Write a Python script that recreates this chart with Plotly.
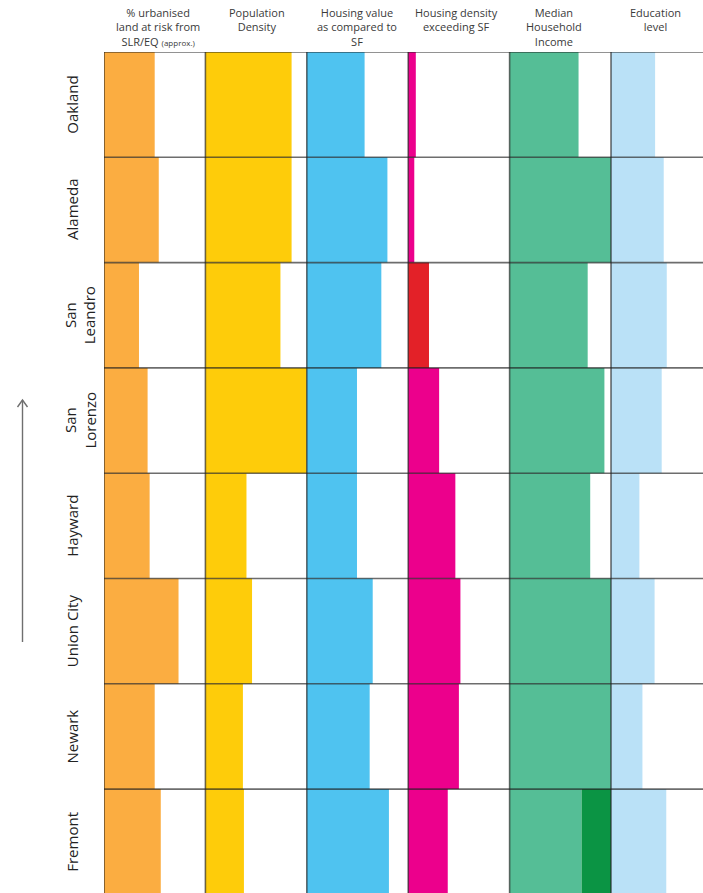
import plotly.graph_objects as go

# Cities, top to bottom
cities = ["Oakland", "Alameda", "San<br>Leandro", "San<br>Lorenzo",
          "Hayward", "Union City", "Newark", "Fremont"]

# Column headers
headers = [
    "% urbanised<br>land at risk from<br>SLR/EQ <span style='font-size:8px'>(approx.)</span>",
    "Population<br>Density",
    "Housing value<br>as compared to<br>SF",
    "Housing density<br>exceeding SF",
    "Median<br>Household<br>Income",
    "Education<br>level",
]

# Relative values per indicator (share of a column's width)
urban_risk     = [0.50, 0.54, 0.345, 0.43, 0.45, 0.735, 0.50, 0.56]
pop_density    = [0.85, 0.85, 0.74, 1.00, 0.405, 0.46, 0.37, 0.38]
housing_value  = [0.57, 0.795, 0.735, 0.495, 0.495, 0.65, 0.62, 0.81]
density_excess = [0.075, 0.06, 0.205, 0.305, 0.465, 0.515, 0.50, 0.39]
income         = [0.68, 1.00, 0.77, 0.935, 0.795, 1.00, 1.00, 0.71]
income_extra   = [0, 0, 0, 0, 0, 0, 0, 0.29]
education      = [0.435, 0.52, 0.55, 0.50, 0.28, 0.43, 0.31, 0.545]

columns = [urban_risk, pop_density, housing_value, density_excess, income, education]
colors = ["#FBAD41", "#FECC0A", "#4FC3F0", "#EC008C", "#55BE96", "#BAE1F7"]
density_colors = ["#E32128" if c == "San<br>Leandro" else "#EC008C" for c in cities]

W, H = 703, 893
L, T = 104, 52
COL_W, ROW_H = 101.4, 105.3
plot_w, plot_h = W - L, H - T


def px(x):
    return (x - L) / plot_w


def py(y):
    return 1 - (y - T) / plot_h


rows = [i + 0.5 for i in range(len(cities))]

fig = go.Figure()
for ci, vals in enumerate(columns):
    mc = density_colors if ci == 3 else colors[ci]
    fig.add_trace(go.Bar(
        y=rows, x=vals, base=[ci] * len(vals), orientation="h", width=1,
        marker=dict(color=mc, line=dict(width=0)), hoverinfo="skip",
        showlegend=False,
    ))

# Fremont's income runs past the common scale
fig.add_trace(go.Bar(
    y=rows, x=income_extra, base=[4 + v for v in income], orientation="h", width=1,
    marker=dict(color="#0B9444", line=dict(width=0)), hoverinfo="skip",
    showlegend=False,
))

shapes = []
grid = dict(color="rgba(30,30,30,0.65)", width=1.6)
for ci in range(len(columns)):
    shapes.append(dict(type="line", xref="x", yref="y", x0=ci, x1=ci,
                       y0=0, y1=len(cities), line=grid, layer="above"))
for ri in range(len(cities) + 1):
    shapes.append(dict(type="line", xref="x", yref="y", x0=0, x1=len(columns),
                       y0=ri, y1=ri, line=grid, layer="above"))

# Direction arrow on the left
arrow = dict(color="#6f6f6f", width=1.4)
shapes.append(dict(type="line", xref="paper", yref="paper",
                   x0=px(22.5), x1=px(22.5), y0=py(642), y1=py(400), line=arrow))
shapes.append(dict(type="path", xref="paper", yref="paper",
                   path=f"M {px(17.5)},{py(407)} L {px(22.5)},{py(400)} L {px(27.5)},{py(407)}",
                   line=arrow))

annotations = []
header_x = [158, 257, 357, 456, 554, 655]
for hx, text in zip(header_x, headers):
    annotations.append(dict(
        x=px(hx), y=py(3), xref="paper", yref="paper", text=text,
        showarrow=False, xanchor="center", yanchor="top", align="center",
        font=dict(family="Open Sans", size=11, color="#3a3a3a"),
    ))

for ri, name in enumerate(cities):
    lx = 80 if "<br>" in name else 72
    annotations.append(dict(
        x=px(lx), y=py(T + (ri + 0.5) * ROW_H), xref="paper", yref="paper",
        text=name, textangle=-90, showarrow=False, xanchor="center",
        yanchor="middle", align="center",
        font=dict(family="Open Sans", size=15, color="#222222"),
    ))

fig.update_layout(
    width=W, height=H,
    margin=dict(l=L, r=0, t=T, b=0, pad=0),
    paper_bgcolor="white", plot_bgcolor="white",
    barmode="overlay",
    xaxis=dict(range=[0, plot_w / COL_W], visible=False, fixedrange=True),
    yaxis=dict(range=[plot_h / ROW_H, 0], visible=False, fixedrange=True),
    shapes=shapes, annotations=annotations,
)

fig.write_html("out.html")
